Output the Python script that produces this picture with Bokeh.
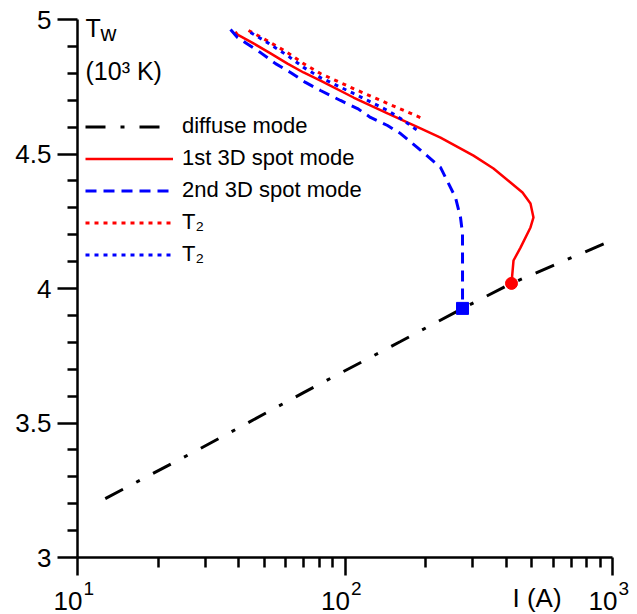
from bokeh.plotting import figure
from bokeh.models import FixedTicker, Legend, LegendItem, Label, LogAxis, LinearAxis
from bokeh.embed import file_html
from bokeh.resources import INLINE

FONT = "Liberation Sans"

# diffuse mode
diff_I = [12.7, 28.8, 70.0, 161.2, 275.0, 419.2, 601.8, 990.0]
diff_T = [3.219, 3.405, 3.613, 3.803, 3.926, 4.019, 4.086, 4.178]

# 1st 3D spot mode
s1_I = [38.96, 39.64, 45.49, 52.67, 60.96, 69.97, 80.99, 107.6, 144.2, 191.5, 227.5,
        302.3, 359.0, 415.6, 460.9, 493.6, 506.5, 493.6, 453.0, 426.5, 419.2]
s1_T = [4.955, 4.944, 4.911, 4.874, 4.836, 4.803, 4.773, 4.710, 4.651, 4.595, 4.561,
        4.494, 4.446, 4.394, 4.357, 4.316, 4.264, 4.227, 4.152, 4.104, 4.019]

# 2nd 3D spot mode
s2_I = [37.33, 39.64, 42.46, 48.32, 54.99, 62.56, 71.17, 80.99, 96.21, 111.4, 124.5,
        144.2, 161.3, 186.6, 227.5, 258.9, 270.3, 275.0, 275.0, 275.0]
s2_T = [4.963, 4.933, 4.914, 4.877, 4.836, 4.803, 4.766, 4.736, 4.699, 4.669, 4.636,
        4.606, 4.576, 4.524, 4.450, 4.338, 4.264, 4.204, 3.981, 3.926]

# T2 (red dotted)
t2r_I = [43.58, 49.58, 60.96, 69.97, 80.99, 107.6, 144.2, 194.8]
t2r_T = [4.959, 4.929, 4.877, 4.836, 4.799, 4.743, 4.688, 4.632]

# T2 (blue dotted)
t2b_I = [44.33, 51.32, 60.96, 69.97, 80.99, 107.6, 144.2, 161.3, 175.8, 186.6]
t2b_T = [4.952, 4.914, 4.866, 4.822, 4.784, 4.725, 4.662, 4.632, 4.606, 4.587]

# bifurcation points
bif1_I = [419.2]
bif1_T = [4.019]
bif2_I = [275.0]
bif2_T = [3.926]

x_ticks = [10, 100, 1000]
x_tick_base = ["10", "10", "10"]
x_tick_exp = ["1", "2", "3"]
x_minor = [20, 30, 40, 50, 60, 70, 80, 90, 200, 300, 400, 500, 600, 700, 800, 900]
y_ticks = [3, 3.5, 4, 4.5, 5]
y_minor = [3.1, 3.2, 3.3, 3.4, 3.6, 3.7, 3.8, 3.9, 4.1, 4.2, 4.3, 4.4, 4.6, 4.7, 4.8, 4.9]
y_labels = {3: "3", 3.5: "3.5", 4: "4", 4.5: "4.5", 5: "5"}

# layout: the frame fills the canvas; the axes sit at I = 10 and T = 3
W, H = 637, 614
X_LEFT_PX, X_RIGHT_PX = 77, 612      # pixel of I = 10 and I = 1000
Y_TOP_PX, Y_BOTTOM_PX = 19, 557      # pixel of T = 5 and T = 3
px_per_decade = (X_RIGHT_PX - X_LEFT_PX) / 2
px_per_unit = (Y_BOTTOM_PX - Y_TOP_PX) / 2
x_start = 10 ** (1 - X_LEFT_PX / px_per_decade)
x_end = 10 ** (3 + (W - X_RIGHT_PX) / px_per_decade)
y_start = 3 - (H - Y_BOTTOM_PX) / px_per_unit
y_end = 5 + Y_TOP_PX / px_per_unit
SHIFT = 10  # baseline correction for labels

p = figure(width=W, height=H, x_axis_type="log", x_range=(x_start, x_end),
           y_range=(y_start, y_end), x_axis_location=None, y_axis_location=None,
           output_backend="svg", toolbar_location=None,
           min_border_left=0, min_border_right=0, min_border_top=0, min_border_bottom=0)
p.grid.visible = False
p.outline_line_color = None
p.background_fill_color = "white"

xaxis = LogAxis(fixed_location=3, bounds=(10, 1000))
yaxis = LinearAxis(fixed_location=10, bounds=(3, 5))
p.add_layout(xaxis, "below")
p.add_layout(yaxis, "left")

for ax in (xaxis, yaxis):
    ax.axis_line_width = 2.5
    ax.major_tick_line_width = 2.5
    ax.minor_tick_line_width = 2.5
    ax.axis_line_color = "black"
    ax.major_tick_line_color = "black"
    ax.minor_tick_line_color = "black"
    ax.major_tick_in = 0
    ax.minor_tick_in = 0
    ax.major_label_text_font = FONT
    ax.major_label_text_font_size = "26px"
    ax.major_label_text_color = "black"

xaxis.ticker = FixedTicker(ticks=x_ticks, minor_ticks=x_minor)
xaxis.major_label_overrides = {t: "" for t in x_ticks}
xaxis.major_tick_out = 18
xaxis.minor_tick_out = 10

yaxis.ticker = FixedTicker(ticks=y_ticks, minor_ticks=y_minor)
yaxis.major_label_overrides = y_labels
yaxis.major_tick_out = 20
yaxis.minor_tick_out = 10
yaxis.major_label_standoff = 6

r_diff = p.line(diff_I, diff_T, line_color="black", line_width=3, line_dash="20 15 4 15")
r_s1 = p.line(s1_I, s1_T, line_color="#ff0000", line_width=2.5)
r_s2 = p.line(s2_I, s2_T, line_color="#0000ff", line_width=3, line_dash="11 7")
r_t2r = p.line(t2r_I, t2r_T, line_color="#ff0000", line_width=3, line_dash="4 5")
r_t2b = p.line(t2b_I, t2b_T, line_color="#0000ff", line_width=3, line_dash="4 5")
p.scatter(bif1_I, bif1_T, marker="circle", size=12, fill_color="#ff0000", line_color="#ff0000")
p.scatter(bif2_I, bif2_T, marker="square", size=12, fill_color="#0000ff", line_color="#0000ff")

legend = Legend(items=[
    LegendItem(label="diffuse mode", renderers=[r_diff]),
    LegendItem(label="1st 3D spot mode", renderers=[r_s1]),
    LegendItem(label="2nd 3D spot mode", renderers=[r_s2]),
    LegendItem(label="T₂", renderers=[r_t2r]),
    LegendItem(label="T₂", renderers=[r_t2b]),
], location=(85, 290 + (H - Y_BOTTOM_PX)))
legend.label_text_font = FONT
legend.label_text_font_size = "22px"
legend.label_text_color = "black"
legend.glyph_width = 88
legend.glyph_height = 25
legend.label_height = 25
legend.label_standoff = 9
legend.spacing = 6
legend.padding = 0
legend.margin = 0
legend.border_line_alpha = 0
legend.background_fill_alpha = 0
p.add_layout(legend)


def add_label(x, y, text, size):
    # screen units: from the canvas left and from the canvas bottom
    p.add_layout(Label(x=x, y=y + SHIFT, x_units="screen", y_units="screen", text=text,
                       text_font=FONT, text_font_size=size, text_color="black",
                       text_baseline="alphabetic", level="overlay"))


add_label(85, H - 37, "T", "25px")
add_label(100, H - 43, "w", "22px")
add_label(85, H - 80, "(10³ K)", "25px")
add_label(512, H - 607, "I (A)", "26px")

# x tick labels 10^n drawn as base + raised exponent at each tick
for t, b, e in zip(x_ticks, x_tick_base, x_tick_exp):
    p.add_layout(Label(x=t, y=3, text=b, x_offset=5, y_offset=-53 + SHIFT, text_align="right",
                       text_baseline="alphabetic", text_font=FONT, text_font_size="26px",
                       text_color="black", level="overlay"))
    p.add_layout(Label(x=t, y=3, text=e, x_offset=6, y_offset=-41 + SHIFT, text_align="left",
                       text_baseline="alphabetic", text_font=FONT, text_font_size="19px",
                       text_color="black", level="overlay"))

open("out.html", "w").write(file_html(p, INLINE))
